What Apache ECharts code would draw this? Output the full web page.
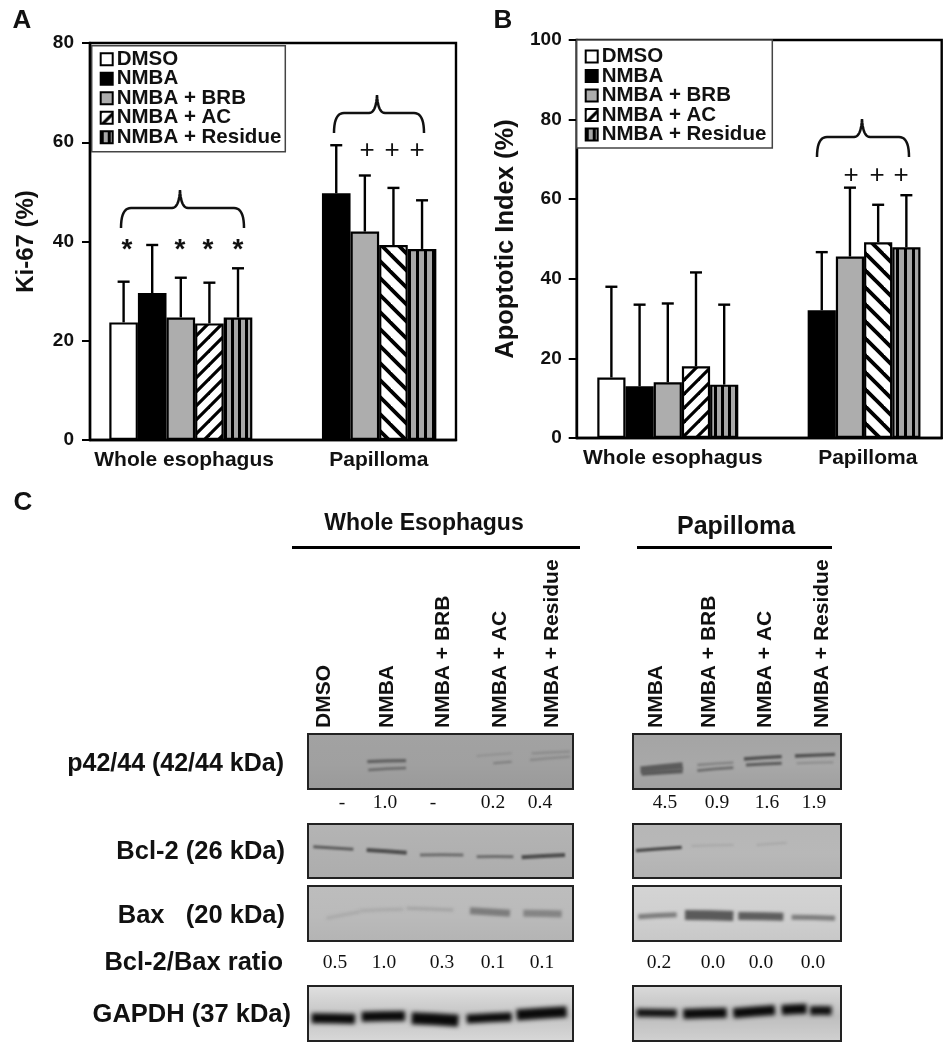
<!DOCTYPE html>
<html><head><meta charset="utf-8">
<style>html,body{margin:0;padding:0;background:#fff}#c{width:947px;height:1050px;filter:blur(0.45px)}</style>
<script src="https://cdn.jsdelivr.net/npm/echarts@6/dist/echarts.min.js"></script>
</head><body><div id="c"></div>
<script>
// ---------- data ----------
const treatments = ['DMSO','NMBA','NMBA + BRB','NMBA + AC','NMBA + Residue'];
const groupNames = ['Whole esophagus','Papilloma'];
const ki67Whole = [23.7,29.6,24.7,23.5,24.7];
const ki67WholeUpper = [31.9,39.3,32.7,31.7,34.6];
const ki67Papilloma = [null,49.7,42.0,39.3,38.5];
const ki67PapillomaUpper = [null,59.4,53.3,50.8,48.3];
const apoWhole = [15.2,13.0,14.0,18.0,13.4];
const apoWholeUpper = [38.0,33.5,33.8,41.6,33.5];
const apoPapilloma = [null,32.1,45.6,49.2,47.9];
const apoPapillomaUpper = [null,46.7,62.9,58.6,61.0];
const ki67Ticks = [0,20,40,60,80];
const apoTicks = [0,20,40,60,80,100];
const lanesWhole = ['DMSO','NMBA','NMBA + BRB','NMBA + AC','NMBA + Residue'];
const lanesPapilloma = ['NMBA','NMBA + BRB','NMBA + AC','NMBA + Residue'];
const p42Whole = ['-','1.0','-','0.2','0.4'];
const p42Papilloma = ['4.5','0.9','1.6','1.9'];
const ratioWhole = ['0.5','1.0','0.3','0.1','0.1'];
const ratioPapilloma = ['0.2','0.0','0.0','0.0'];
const blotLabels = ['p42/44 (42/44 kDa)','Bcl-2 (26 kDa)','Bax   (20 kDa)','Bcl-2/Bax ratio','GAPDH (37 kDa)'];

// ---------- layout ----------
const FONT = '"Liberation Sans", Arial, sans-serif';
const gridA = {left:90,top:43,width:366,height:397,barW:28.6,starts:[0.675,8.11],labels:[3.29,10.1]};
const gridB = {left:576.7,top:40,width:365,height:398,barW:28.2,starts:[0.73,8.19],labels:[3.41,10.32]};

function diag(dir,s,lw){
  const c=document.createElement('canvas');c.width=c.height=s;const g=c.getContext('2d');
  g.fillStyle='#fff';g.fillRect(0,0,s,s);g.strokeStyle='#000';g.lineWidth=lw;
  const L=(a,b,x,y)=>{g.beginPath();g.moveTo(a,b);g.lineTo(x,y);g.stroke();};
  if(dir>0){L(-s,s,s,-s);L(-s,2*s,2*s,-s);L(0,2*s,2*s,0);}
  else{L(-s,-s,2*s,2*s);L(-s,0,s,2*s);L(0,-s,2*s,s);}
  return {image:c,repeat:'repeat'};
}
function vstripes(period,black){
  const c=document.createElement('canvas');c.width=period;c.height=4;const g=c.getContext('2d');
  g.fillStyle='#a8a8a8';g.fillRect(0,0,period,4);g.fillStyle='#000';g.fillRect(0,0,black,4);
  return {image:c,repeat:'repeat'};
}
const baseColors=['#fff','#000','#adadad',diag(1,14,3.2),vstripes(7,3)];
const papOverride={3:diag(-1,17,3.8),4:vstripes(8,3)};

function barSeries(axis,whole,pap,g){
  return treatments.map((name,i)=>{
    const data=[[g.starts[0]+i+0.5,whole[i]]];
    if(pap[i]!=null){
      const item={value:[g.starts[1]+i-1+0.5,pap[i]]};
      if(papOverride[i]) item.itemStyle={color:papOverride[i],borderColor:'#000',borderWidth:2.2};
      data.push(item);
    }
    return {name,type:'bar',xAxisIndex:axis,yAxisIndex:axis,barWidth:g.barW,barGap:'-100%',data,
      itemStyle:{color:baseColors[i],borderColor:'#000',borderWidth:2.2},animation:false,silent:true};
  });
}
function errSeries(axis,upW,valW,upP,valP,g){
  const d=[];
  treatments.forEach((_,i)=>{d.push([g.starts[0]+i+0.5,valW[i],upW[i]]);
    if(upP[i]!=null)d.push([g.starts[1]+i-1+0.5,valP[i],upP[i]]);});
  return {type:'custom',name:'error',xAxisIndex:axis,yAxisIndex:axis,data:d,animation:false,silent:true,z:5,clip:false,
    encode:{x:0,y:[1,2]},
    renderItem(p,api){
      const a=api.coord([api.value(0),api.value(1)]),b=api.coord([api.value(0),api.value(2)]);
      const st={stroke:'#000',lineWidth:2.4,fill:'none'};
      return {type:'group',children:[
        {type:'line',shape:{x1:a[0],y1:a[1],x2:a[0],y2:b[1]},style:st},
        {type:'line',shape:{x1:a[0]-6,y1:b[1],x2:a[0]+6,y2:b[1]},style:st}]};
    }};
}
function axes(g,ticksMax,interval,name,nameSize,nameGap,yMargin){
  return {
    x:{type:'value',gridIndex:g.idx,min:0,max:g.width/g.barW,splitLine:{show:false},
       axisLine:{lineStyle:{color:'#000',width:2.4},onZero:false},axisTick:{show:false},
       axisLabel:{customValues:g.labels,margin:10,color:'#111',fontFamily:FONT,fontWeight:'bold',fontSize:21,
         formatter:v=>groupNames[g.labels.indexOf(v)]||''}},
    y:{type:'value',gridIndex:g.idx,min:0,max:ticksMax,interval,name,nameLocation:'middle',nameRotate:90,nameGap,
       nameTextStyle:{fontFamily:FONT,fontWeight:'bold',fontSize:nameSize,color:'#111'},
       splitLine:{show:false},axisLine:{show:true,lineStyle:{color:'#000',width:2.4}},
       axisTick:{show:true,length:8,lineStyle:{color:'#000',width:2}},
       axisLabel:{margin:yMargin,color:'#111',fontFamily:FONT,fontWeight:'bold',fontSize:19}}
  };
}
gridA.idx=0;gridB.idx=1;
const aA=axes(gridA,ki67Ticks[ki67Ticks.length-1],20,'Ki-67 (%)',24,52,16);
const aB=axes(gridB,apoTicks[apoTicks.length-1],20,'Apoptotic Index (%)',25.5,58,15);

function legend(left,top,pad){return {orient:'vertical',left,top,data:treatments,itemWidth:12,itemHeight:12,itemGap:-1.5,
  padding:pad,align:'left',backgroundColor:'#fff',borderColor:'#444',borderWidth:1.5,selectedMode:false,
  icon:'rect',textStyle:{fontFamily:FONT,fontWeight:'bold',fontSize:20.5,lineHeight:18,color:'#111',padding:[0,0,0,-1]}};}

// ---------- annotation graphics ----------
function brace(xL,xR,xT,yEnd,yMid,yTip){
  const pts=[];const q=(p0,c,p1)=>{for(let t=0;t<=1.001;t+=.1){pts.push([(1-t)*(1-t)*p0[0]+2*t*(1-t)*c[0]+t*t*p1[0],(1-t)*(1-t)*p0[1]+2*t*(1-t)*c[1]+t*t*p1[1]]);}};
  q([xL,yEnd],[xL,yMid],[xL+10,yMid]);
  q([xT-8,yMid],[xT-1,yMid],[xT,yTip]);
  q([xT,yTip],[xT+1,yMid],[xT+8,yMid]);
  q([xR-10,yMid],[xR,yMid],[xR,yEnd]);
  return {type:'polyline',z:6,shape:{points:pts},style:{stroke:'#111',lineWidth:2.5,fill:'none'}};
}
function txt(text,x,y,size,opt){opt=opt||{};
  return {type:'text',z:6,x,y,rotation:opt.rot||0,style:{text,x:0,y:0,fill:opt.fill||'#111',textAlign:opt.align||'center',textVerticalAlign:'middle',
    font:(opt.normal?'':'bold ')+size+'px '+(opt.family||FONT)}};
}
const SERIF='"Liberation Serif", serif';
const g=[];
g.push(txt('A',22,21,26),txt('B',503,21,26),txt('C',23,503,26));
g.push(brace(121,244,180,228,208,190),brace(334,424,377,133,113,95),brace(817,909,862,157,137,119));
[127,180,208,238].forEach(x=>g.push(txt('*',x,250,28)));
[367,392,417].forEach(x=>g.push(txt('+',x,151,26,{normal:true})));
[851,877,901].forEach(x=>g.push(txt('+',x,176,26,{normal:true})));
g.push(txt('Whole Esophagus',424,524,23),txt('Papilloma',736,527,25));
g.push({type:'rect',shape:{x:292,y:546,width:288,height:3},style:{fill:'#000'}});
g.push({type:'rect',shape:{x:637,y:546,width:195,height:3},style:{fill:'#000'}});
const laneXW=[324,387,443,500,552],laneXP=[656,709,765,822];
lanesWhole.forEach((t,i)=>g.push(txt(t,laneXW[i],728,21,{rot:Math.PI/2,align:'left'})));
lanesPapilloma.forEach((t,i)=>g.push(txt(t,laneXP[i],728,21,{rot:Math.PI/2,align:'left'})));
const blotY=[764,852,916,963,1015],blotR=[284,285,285,283,291];
blotLabels.forEach((t,i)=>g.push(txt(t,blotR[i],blotY[i],i===0?25:25.5,{align:'right'})));
const p42XW=[342,385,433,493,540],p42XP=[665,717,767,814];
p42Whole.forEach((t,i)=>g.push(txt(t,p42XW[i],803,19.5,{normal:true,family:SERIF})));
p42Papilloma.forEach((t,i)=>g.push(txt(t,p42XP[i],803,19.5,{normal:true,family:SERIF})));
const rXW=[335,384,442,493,542],rXP=[659,713,761,813];
ratioWhole.forEach((t,i)=>g.push(txt(t,rXW[i],963,19.5,{normal:true,family:SERIF})));
ratioPapilloma.forEach((t,i)=>g.push(txt(t,rXP[i],963,19.5,{normal:true,family:SERIF})));

// blot panels: picture decoration, band tuples in crop coords [x0,y0,x1,y1,thick,colour]
function panel(x,y,w,h,oxz,bgTop,bgMid,bgBot,bands,blur){
  const c=document.createElement('canvas');c.width=w;c.height=h;const k=c.getContext('2d');
  const gr=k.createLinearGradient(0,0,0,h);gr.addColorStop(0,bgTop);gr.addColorStop(.55,bgMid);gr.addColorStop(1,bgBot);
  k.fillStyle=gr;k.fillRect(0,0,w,h);
  k.filter='blur('+blur+'px)';k.lineCap='butt';
  bands.forEach(b=>{k.strokeStyle=b[5];k.lineWidth=b[4];k.beginPath();
    k.moveTo(oxz+b[0]/3-x,720+b[1]/3-y);
    k.quadraticCurveTo(oxz+(b[0]+b[2])/6-x,720+(b[1]+b[3])/6-y-0.4,oxz+b[2]/3-x,720+b[3]/3-y);k.stroke();});
  k.filter='none';
  g.push({type:'image',style:{image:c,x,y,width:w,height:h}});
  g.push({type:'rect',z:3,shape:{x,y,width:w,height:h},style:{fill:'none',stroke:'#222',lineWidth:2}});
}
const WX=290,PX=620,wL=308,wW=265,pL=633,pW=208;
panel(wL,734,wW,55,WX,'#a2a2a2','#a0a0a0','#9a9a9a',[
 [232,125,348,122,3.2,'#606060'],[235,150,348,144,2.4,'#686868'],
 [560,108,665,100,1.5,'#8c8c8c'],[610,130,665,125,2,'#7c7c7c'],
 [725,100,840,95,2.4,'#8a8a8a'],[720,120,840,110,2.4,'#888']],1);
panel(pL,734,pW,55,PX,'#a4a4a4','#a8a8a8','#a0a0a0',[
 [62,150,188,137,7,'#5c5c5c'],[65,160,188,152,5,'#5c5c5c'],
 [232,135,340,128,2.4,'#808080'],[232,152,340,143,2.8,'#6c6c6c'],
 [372,117,485,110,3.4,'#505050'],[378,135,485,130,3,'#5a5a5a'],
 [525,108,645,103,3.4,'#505050'],[530,130,640,127,1.8,'#888']],1);
panel(wL,824,wW,54,WX,'#b4b4b4','#b0b0b0','#adadad',[
 [70,380,190,388,3,'#5c5c5c'],[230,390,350,398,4,'#4c4c4c'],[390,405,520,405,3,'#6c6c6c'],
 [560,410,670,410,3,'#6c6c6c'],[695,412,825,405,4,'#4c4c4c']],1.1);
panel(pL,824,pW,54,PX,'#b6b6b6','#b8b8b8','#b2b2b2',[
 [48,392,185,382,3.4,'#484848'],[215,378,340,375,2,'#a8a8a8'],[410,375,500,368,2,'#a8a8a8']],1.1);
panel(wL,886,wW,55,WX,'#bdbdbd','#bababa','#b4b4b4',[
 [110,595,210,575,3,'#a8a8a8'],[210,572,340,568,3,'#a8a8a8'],[350,565,490,570,3,'#a2a2a2'],
 [540,572,660,580,7,'#7c7c7c'],[700,580,815,582,7,'#848484']],1.8);
panel(pL,886,pW,55,PX,'#d4d4d4','#cfcfcf','#c8c8c8',[
 [55,590,170,584,5,'#7c7c7c'],[195,585,340,588,10,'#5a5a5a'],[355,588,490,590,8,'#5e5e5e'],[515,592,645,595,5,'#7c7c7c']],1.8);
panel(wL,986,wW,55,WX,'#e0e0e0','#c4c4c4','#d8d8d8',[
 [65,895,195,897,10,'#0a0a0a'],[215,890,345,888,10,'#0a0a0a'],[365,895,505,902,12,'#0a0a0a'],
 [530,897,665,890,9,'#0a0a0a'],[680,885,830,875,11,'#0a0a0a']],2);
panel(pL,986,pW,55,PX,'#dadada','#bebebe','#d0d0d0',[
 [50,878,170,880,8,'#111'],[190,882,320,878,10,'#0a0a0a'],[340,880,465,870,10,'#0a0a0a'],
 [485,870,560,866,10,'#0a0a0a'],[570,872,635,872,9,'#111']],2);

const chart=echarts.init(document.getElementById('c'),null,{renderer:'canvas'});
const gridOpt=o=>({left:o.left,top:o.top,width:o.width,height:o.height,show:true,borderColor:'#000',borderWidth:2.4,backgroundColor:'#fff'});
chart.setOption({
  animation:false,backgroundColor:'#fff',
  grid:[gridOpt(gridA),gridOpt(gridB)],
  xAxis:[aA.x,aB.x],yAxis:[aA.y,aB.y],
  legend:[legend(91.7,45.7,[3,4,4,8]),legend(576.7,40,[6,6,3,8])],
  series:[...barSeries(0,ki67Whole,ki67Papilloma,gridA),errSeries(0,ki67WholeUpper,ki67Whole,ki67PapillomaUpper,ki67Papilloma,gridA),
          ...barSeries(1,apoWhole,apoPapilloma,gridB),errSeries(1,apoWholeUpper,apoWhole,apoPapillomaUpper,apoPapilloma,gridB)],
  graphic:{elements:g}
});
</script></body></html>
